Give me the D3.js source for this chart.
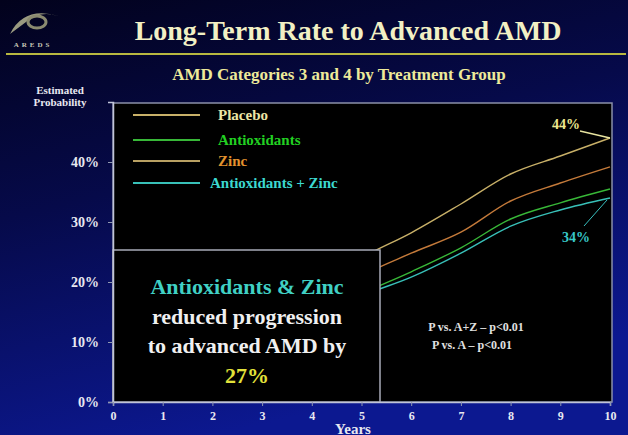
<!DOCTYPE html>
<html><head><meta charset="utf-8">
<script src="https://cdn.jsdelivr.net/npm/d3@7"></script>
<style>html,body{margin:0;padding:0;background:#000;}svg{display:block;}
svg text{font-family:"Times New Roman",Times,"Liberation Serif","Noto Serif","DejaVu Serif",serif;font-weight:bold;}</style>
</head><body>
<svg id="c" width="628" height="435"></svg>
<script>
const years = [0,1,2,3,4,5,6,7,8,9,10];
const placebo = [0, 3.5, 8, 13, 18.5, 24, 28.2, 33, 38, 41, 44];
const zinc = [0, 3, 6.5, 11, 15.5, 21, 24.8, 28.3, 33.5, 36.5, 39.2];
const antioxidants = [0, 2.5, 5.5, 9.5, 13.5, 18, 21.7, 25.7, 30.5, 33.2, 35.5];
const antiZinc = [0, 2.2, 5, 9, 13, 17.6, 20.8, 24.8, 29.3, 32, 34];
const seriesNames = ["Placebo", "Antioxidants", "Zinc", "Antioxidants + Zinc"];
const yTicks = [0, 10, 20, 30, 40];

const series = [
  {name: seriesNames[0], values: placebo, line: "#c8b068", text: "#ece6a6"},
  {name: seriesNames[1], values: antioxidants, line: "#38b838", text: "#22d022"},
  {name: seriesNames[2], values: zinc, line: "#c47a3a", text: "#e2922e", legendLine: "#b8a062"},
  {name: seriesNames[3], values: antiZinc, line: "#38c0b8", text: "#3cd8d0"}
];

const svg = d3.select("#c");

// background gradient
const defs = svg.append("defs");
const g = defs.append("linearGradient").attr("id","bg").attr("x1",0).attr("y1",0).attr("x2",0.35).attr("y2",1);
g.append("stop").attr("offset","0%").attr("stop-color","#02021c");
g.append("stop").attr("offset","45%").attr("stop-color","#060a4a");
g.append("stop").attr("offset","100%").attr("stop-color","#0c1890");
svg.append("rect").attr("width",628).attr("height",435).attr("fill","url(#bg)");

// logo
const logo = svg.append("g");
logo.append("path").attr("d","M10,34 Q24,6 58,16 Q40,10 26,22 Q18,28 10,34Z").attr("fill","#9a9a80");
logo.append("ellipse").attr("cx",37).attr("cy",22).attr("rx",9).attr("ry",6).attr("fill","none").attr("stroke","#8a8a70").attr("stroke-width",3);
logo.append("text").attr("x",33).attr("y",47).attr("text-anchor","middle").attr("fill","#c8c8b8")
  .attr("font-size",7).attr("letter-spacing",3).text("AREDS");

// title
svg.append("text").attr("x",348).attr("y",40).attr("text-anchor","middle")
  .attr("font-size",28).attr("fill","#f2f0c4")
  .text("Long-Term Rate to Advanced AMD");
svg.append("line").attr("x1",6).attr("x2",626).attr("y1",54).attr("y2",54).attr("stroke","#b8b840").attr("stroke-width",2);
svg.append("text").attr("x",339).attr("y",80).attr("text-anchor","middle")
  .attr("font-size",17).attr("fill","#eeea9a")
  .text("AMD Categories 3 and 4 by Treatment Group");

svg.append("text").attr("x",60).attr("y",94).attr("text-anchor","middle")
  .attr("font-size",11).attr("fill","#e8e8f0").text("Estimated");
svg.append("text").attr("x",60).attr("y",106).attr("text-anchor","middle")
  .attr("font-size",11).attr("fill","#e8e8f0").text("Probability");

// scales
const x = d3.scaleLinear().domain([0,10]).range([113,610]);
const y = d3.scaleLinear().domain([0,50]).range([402,102]);

// plot area
svg.append("rect").attr("x",113).attr("y",103).attr("width",499).attr("height",299)
  .attr("fill","#000").attr("stroke","#8a90a8").attr("stroke-width",1.5);

// lines
const line = d3.line().x((d,i)=>x(years[i])).y(d=>y(d)).curve(d3.curveMonotoneX);
series.forEach(s=>{
  svg.append("path").attr("d",line(s.values)).attr("fill","none").attr("stroke",s.line).attr("stroke-width",1.4);
});

// legend
series.forEach((s,i)=>{
  const ly = [115,140,161,183][i];
  svg.append("line").attr("x1",133).attr("x2",200).attr("y1",ly).attr("y2",ly)
    .attr("stroke",s.legendLine||s.line).attr("stroke-width",2);
  svg.append("text").attr("x",i===3?210:218).attr("y",ly+5)
    .attr("font-size",15).attr("fill",s.text).text(s.name);
});

// annotations
svg.append("line").attr("x1",580).attr("y1",131).attr("x2",x(10)).attr("y2",y(placebo[10])).attr("stroke","#e8e4a0").attr("stroke-width",1.3);
svg.append("text").attr("x",566).attr("y",129).attr("text-anchor","middle")
  .attr("font-size",14).attr("fill","#eee890").text("44%");
svg.append("line").attr("x1",584).attr("y1",226).attr("x2",x(10)-3).attr("y2",y(antiZinc[10])+2).attr("stroke","#38c0c0").attr("stroke-width",1);
svg.append("text").attr("x",576).attr("y",242).attr("text-anchor","middle")
  .attr("font-size",14).attr("fill","#38c8c8").text("34%");

// p values
svg.append("text").attr("x",476).attr("y",331).attr("text-anchor","middle")
  .attr("font-size",12).attr("fill","#e0e0e0").text("P vs. A+Z – p<0.01");
svg.append("text").attr("x",472).attr("y",349).attr("text-anchor","middle")
  .attr("font-size",12).attr("fill","#e0e0e0").text("P vs. A – p<0.01");

// box
svg.append("rect").attr("x",113).attr("y",250).attr("width",267).attr("height",152)
  .attr("fill","#000").attr("stroke","#a8aab8").attr("stroke-width",1.5);
const bt = [["Antioxidants & Zinc","#40d0c4",294],["reduced progression","#f0f0f0",324],["to advanced AMD by","#f0f0f0",353],["27%","#e2e23a",383]];
bt.forEach(([t,c,yy])=>{
  svg.append("text").attr("x",247).attr("y",yy).attr("text-anchor","middle")
    .attr("font-size",22).attr("fill",c).text(t);
});

// axes
const ya = svg.append("g").attr("transform","translate(113,0)")
  .call(d3.axisLeft(y).tickValues(yTicks).tickFormat(d=>d+"%").tickSize(5).tickPadding(9));
const xa = svg.append("g").attr("transform","translate(0,402)")
  .call(d3.axisBottom(x).tickValues(years).tickFormat(d=>d).tickSize(4).tickPadding(5));
[ya,xa].forEach(a=>{
  a.attr("font-family",null);
  a.select(".domain").attr("stroke","#c0c4d8").attr("stroke-width",1.5);
  a.selectAll(".tick line").attr("stroke","#9098b0");
  a.selectAll("text").attr("fill","#e8e8f0");
});
ya.selectAll("text").attr("font-size",14);
xa.selectAll("text").attr("font-size",12);

svg.append("text").attr("x",353).attr("y",434).attr("text-anchor","middle")
  .attr("font-size",15).attr("fill","#e8e8f0").text("Years");
</script>
</body></html>
